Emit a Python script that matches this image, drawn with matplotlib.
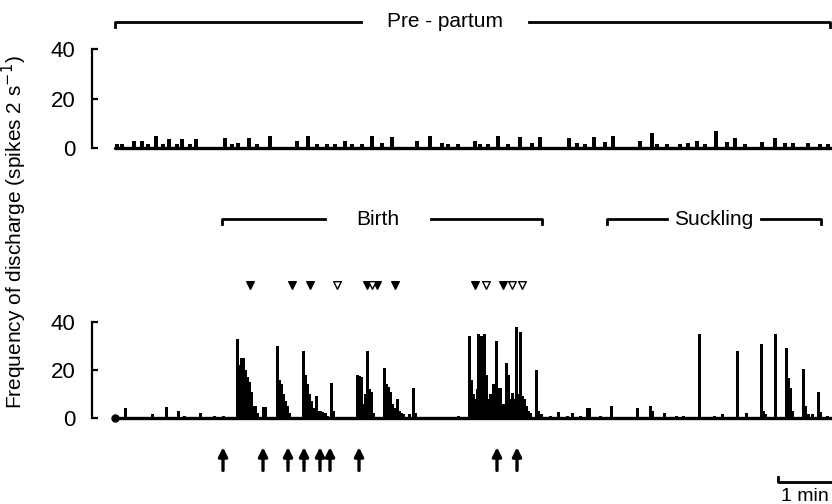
import matplotlib
matplotlib.use("Agg")
import matplotlib.pyplot as plt

plt.rcParams['font.family'] = ['Liberation Sans', 'DejaVu Sans']

# time from start of record (s) and discharge rate (spikes / 2 s)
pre_t = [4, 9, 21, 29, 35, 43, 50, 56, 64, 69, 77, 83, 112, 119, 125, 136, 144,
         157, 184, 195, 204, 214, 222, 232, 239, 249, 259, 269, 279, 304, 317,
         329, 335, 345, 362, 367, 375, 385, 395, 407, 419, 427, 456, 464, 472,
         481, 492, 500, 527, 539, 544, 554, 567, 575, 584, 592, 603, 614, 622,
         632, 649, 662, 672, 680, 695, 707, 715]
pre_rate = [1.5, 1.5, 3, 3, 1.5, 5, 1.5, 3.5, 1.5, 3.5, 1.5, 3.5, 4, 1.5, 2, 4,
            1.5, 5, 3, 5, 1.5, 1.5, 1.5, 3, 1.5, 1.5, 5, 2, 4.5, 3, 5, 2, 1.5,
            1.5, 3, 1.5, 1.5, 5, 1.5, 4.5, 2, 4.5, 4, 2, 1.5, 4.5, 2.5, 5, 3, 6,
            1.5, 1.5, 1.5, 2, 3, 1.5, 7, 2.5, 4, 1.5, 2.5, 4, 2, 2, 2, 1.5, 1.5]

post_t = [4, 12, 39, 53, 65, 71, 87, 101, 110,
          124, 126, 128, 130, 132, 134, 136, 138, 140, 142, 144, 150, 152,
          164, 166, 168, 170, 172, 174, 176,
          190, 192, 194, 196, 198, 200, 203, 205, 207, 209, 212, 214, 218, 220,
          244, 246, 248, 250, 252, 254, 256, 258, 260,
          271, 273, 275, 277, 279, 281, 284, 286, 288, 290, 296, 300, 302, 345,
          356, 358, 360, 362, 364, 365, 367, 368, 369, 371, 373, 375, 377, 380,
          383, 385, 387, 390, 393, 395, 397, 399, 401, 403, 405, 407, 409, 411,
          413, 415, 417, 423, 425, 428, 437, 445, 454, 459, 467, 474, 476, 487,
          498, 524, 537, 539, 551, 563, 570, 586, 601, 609, 624, 633, 648, 650,
          652, 662, 673, 675, 677, 679, 690, 692, 695, 699, 705, 707, 714]
post_rate = [1, 4, 1.5, 4.5, 3, 1, 2, 1, 1,
             33, 22, 25, 25, 20, 17, 15, 11, 5, 5, 2, 4.5, 4.5,
             30, 16, 14, 10, 7, 5, 2,
             28, 18, 14, 10, 7, 4, 9, 3, 3, 2.5, 2, 1, 14.5, 3,
             18, 17.5, 17, 6, 10, 28, 12, 11, 2,
             21, 14, 13, 11, 6, 4, 8, 3, 2, 1.5, 1.5, 12.5, 2, 1,
             34, 16, 10, 8, 12, 35, 14, 34, 13, 35, 18, 8, 10, 14,
             32, 12.5, 12.5, 6, 23, 18, 8, 10.5, 8, 38, 10, 36, 9, 8,
             5, 3, 2, 20, 3, 1.5, 1, 2.5, 1, 2, 1, 4, 4, 1,
             5, 4, 5, 3, 2, 1, 1, 35, 1, 1.5, 28, 2, 31, 3,
             1.5, 35, 29, 16.5, 12.5, 3, 20.5, 5, 1.5, 1.5, 11, 2.5, 1]

# births (arrows) and observed events (filled / open triangles)
arrow_t = [110, 150, 175, 191, 207, 217, 246, 384, 404]
tri_filled_t = [137, 179, 197, 254, 264, 282, 362, 390]
tri_open_t = [224, 259, 373, 399, 409]

# period labels: (label, start s, end s, centre of label s, gap half-width s)
pre_period = ("Pre - partum", 2, 717, 332, 84)
post_periods = [("Birth", 109, 429, 265, 53), ("Suckling", 494, 708, 601, 47)]

fig = plt.figure(figsize=(8.32, 5.04), dpi=100)
ax1 = fig.add_axes([92 / 832, 0.6917, 740 / 832, 0.2206])
ax2 = fig.add_axes([92 / 832, 0.1563, 740 / 832, 0.2143])


def style(ax):
    ax.set_xlim(-21, 719)
    ax.set_ylim(-3, 42)
    for s in ['top', 'right', 'bottom']:
        ax.spines[s].set_visible(False)
    ax.spines['left'].set_bounds(0, 40)
    ax.spines['left'].set_linewidth(1.6)
    ax.set_xticks([])
    ax.set_yticks([0, 20, 40])
    ax.tick_params(axis='y', direction='in', length=4, width=1.6,
                   labelsize=16, pad=12)
    ax.patch.set_alpha(0)


def trace(ax, t, r, w):
    ax.plot([t[0] - 2, 719], [0, 0], color='black', lw=2.4,
            solid_capstyle='round')
    ax.bar(t, r, width=w, color='black', linewidth=0)


def bracket(ax, label, start, end, centre, gap, y, drop):
    kw = dict(color='black', lw=2, clip_on=False)
    ax.plot([start, start, centre - gap], [y - drop, y, y], **kw)
    ax.plot([centre + gap, end, end], [y, y, y - drop], **kw)
    ax.text(centre, y, label, ha='center', va='center', fontsize=15,
            clip_on=False)


style(ax1)
style(ax2)
trace(ax1, pre_t, pre_rate, 3.6)
trace(ax2, post_t, post_rate, 3.0)
ax2.plot(post_t[0] - 2, 0, 'o', color='black', ms=5)

bracket(ax1, *pre_period, y=51, drop=2)
for p in post_periods:
    bracket(ax2, *p, y=82.9, drop=2)

ax2.scatter(tri_filled_t, [55.4] * len(tri_filled_t), marker='v', s=30,
            color='black', clip_on=False)
ax2.scatter(tri_open_t, [55.4] * len(tri_open_t), marker='v', s=30,
            facecolor='white', edgecolor='black', linewidth=1, clip_on=False)

for t in arrow_t:
    ax2.annotate('', xy=(t, -11), xytext=(t, -23),
                 arrowprops=dict(arrowstyle='-|>', lw=2.4, color='black',
                                 mutation_scale=13),
                 annotation_clip=False)

# 1 min scale bar
ax2.plot([665, 665, 725], [-24.6, -26.7, -26.7], color='black', lw=2,
         clip_on=False)
ax2.text(668, -34.4, "1 min", ha='left', va='baseline', fontsize=14,
         clip_on=False)

fig.text(14 / 832, 0.54, "Frequency of discharge (spikes 2 s$^{-1}$)",
         rotation=90, ha='center', va='center', fontsize=15)

fig.savefig("out.png", dpi=100)
